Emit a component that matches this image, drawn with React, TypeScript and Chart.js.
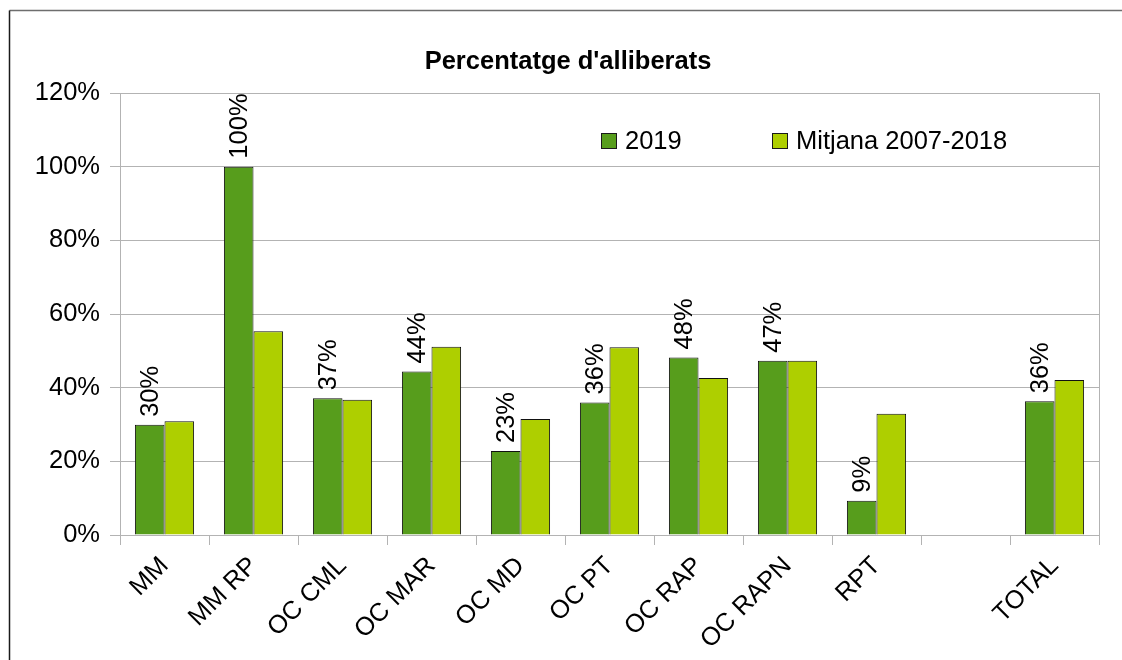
import React, { useEffect, useRef } from "react";
import { Chart, registerables } from "chart.js";

Chart.register(...registerables);

const categories = ["MM", "MM RP", "OC CML", "OC MAR", "OC MD", "OC PT", "OC RAP", "OC RAPN", "RPT", "", "TOTAL"];
const values2019 = [29.9, 100, 37.1, 44.4, 22.8, 36.0, 48.2, 47.3, 9.3, null, 36.3];
const valuesMitjana = [30.9, 55.3, 36.7, 51.1, 31.5, 51.0, 42.6, 47.3, 32.9, null, 42.1];
const seriesNames = ["2019", "Mitjana 2007-2018"];
const seriesColors = ["#579d1c", "#aecf00"];
const titleText = "Percentatge d'alliberats";
const yTicks = [0, 20, 40, 60, 80, 100, 120];

const FONT = "'Liberation Sans', Arial, sans-serif";
const FS = 25.5;

const decorPlugin = {
  id: "decor",
  afterDraw(chart: any) {
    const ctx = chart.ctx;
    const area = chart.chartArea;
    ctx.save();
    // outer frame
    ctx.strokeStyle = "#6e6e6e";
    ctx.lineWidth = 1.5;
    ctx.beginPath();
    ctx.moveTo(9.5, 10.5);
    ctx.lineTo(1122, 10.5);
    ctx.stroke();
    ctx.strokeStyle = "#1a1a1a";
    ctx.beginPath();
    ctx.moveTo(9.5, 10.5);
    ctx.lineTo(9.5, 660);
    ctx.stroke();
    // right border of plot
    ctx.strokeStyle = "#b3b3b3";
    ctx.lineWidth = 1;
    ctx.beginPath();
    ctx.moveTo(Math.round(area.right) + 0.5, area.top);
    ctx.lineTo(Math.round(area.right) + 0.5, area.bottom);
    ctx.stroke();
    // title
    ctx.fillStyle = "#000";
    ctx.font = "bold " + FS + "px " + FONT;
    ctx.textAlign = "center";
    ctx.textBaseline = "middle";
    ctx.fillText(titleText, 568, 62);
    // legend
    const legendX = [601, 772];
    ctx.font = FS + "px " + FONT;
    ctx.textAlign = "left";
    seriesNames.forEach((name, i) => {
      ctx.fillStyle = seriesColors[i];
      ctx.fillRect(legendX[i], 133, 16, 16);
      ctx.strokeStyle = "#1a1a1a";
      ctx.lineWidth = 1;
      ctx.strokeRect(legendX[i] + 0.5, 133.5, 15, 15);
      ctx.fillStyle = "#000";
      ctx.fillText(name, legendX[i] + 24, 142);
    });
    // data labels for 2019
    const meta = chart.getDatasetMeta(0);
    ctx.font = FS + "px " + FONT;
    ctx.fillStyle = "#000";
    ctx.textAlign = "left";
    ctx.textBaseline = "middle";
    meta.data.forEach((el: any, idx: number) => {
      const v = values2019[idx];
      if (v === null || v === undefined) return;
      ctx.save();
      ctx.translate(el.x, el.y - 8);
      ctx.rotate(-Math.PI / 2);
      ctx.fillText(Math.round(v as number) + "%", 0, 1);
      ctx.restore();
    });
    ctx.restore();
  },
};

export default function App() {
  const ref = useRef<HTMLCanvasElement | null>(null);
  useEffect(() => {
    const prevMargin = document.body.style.margin;
    document.body.style.margin = "0";
    const chart = new Chart(ref.current as HTMLCanvasElement, {
      type: "bar",
      data: {
        labels: categories,
        datasets: [
          {
            label: seriesNames[0],
            data: values2019 as any,
            backgroundColor: seriesColors[0],
            borderColor: "#111111",
            borderWidth: 1,
            barPercentage: 1,
            categoryPercentage: 0.665,
          },
          {
            label: seriesNames[1],
            data: valuesMitjana as any,
            backgroundColor: seriesColors[1],
            borderColor: "#111111",
            borderWidth: 1,
            barPercentage: 1,
            categoryPercentage: 0.665,
          },
        ],
      },
      options: {
        responsive: false,
        animation: false,
        devicePixelRatio: 1,
        layout: { padding: { left: 0, right: 23, top: 93, bottom: 0 } },
        plugins: {
          legend: { display: false },
          title: { display: false },
          tooltip: { enabled: false },
        },
        scales: {
          x: {
            offset: true,
            grid: {
              offset: true,
              drawOnChartArea: false,
              drawTicks: true,
              tickLength: 10,
              color: "#b3b3b3",
            },
            border: { display: true, color: "#b3b3b3" },
            ticks: {
              autoSkip: false,
              maxRotation: 45,
              minRotation: 45,
              padding: 6,
              color: "#000",
              font: { family: FONT, size: FS },
            },
            afterFit: (scale: any) => {
              scale.height = 125;
            },
          },
          y: {
            min: 0,
            max: 120,
            afterBuildTicks: (scale: any) => {
              scale.ticks = yTicks.map((v) => ({ value: v }));
            },
            grid: {
              color: "#b3b3b3",
              drawTicks: true,
              tickLength: 10,
            },
            border: { display: true, color: "#b3b3b3" },
            ticks: {
              padding: 10,
              color: "#000",
              font: { family: FONT, size: FS },
              callback: (v: any) => v + "%",
            },
            afterFit: (scale: any) => {
              scale.width = 120;
            },
          },
        },
      },
      plugins: [decorPlugin],
    });
    return () => {
      chart.destroy();
      document.body.style.margin = prevMargin;
    };
  }, []);
  return (
    <div style={{ position: "absolute", left: 0, top: 0, width: 1122, height: 660, background: "#fff" }}>
      <canvas ref={ref} width={1122} height={660} style={{ display: "block" }} />
    </div>
  );
}
